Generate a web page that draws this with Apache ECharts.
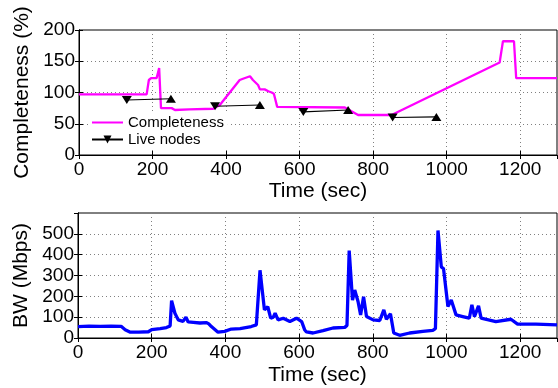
<!DOCTYPE html>
<html>
<head>
<meta charset="utf-8">
<script src="https://cdn.jsdelivr.net/npm/echarts@6/dist/echarts.min.js"></script>
<style>
  html, body { margin: 0; padding: 0; background: #fff; }
  #chart { width: 558px; height: 388px; }
</style>
</head>
<body>
<div id="chart"></div>
<script>
// completeness (%) over time (sec)
const completeness = [
  [0, 97], [184, 97], [190, 120], [196, 123], [211, 123], [215, 132], [218, 139], [223, 75],
  [252, 75], [261, 72], [300, 73], [365, 74], [383, 80], [410, 100], [437, 120], [446, 122],
  [465, 126], [473, 120], [480, 116], [487, 112], [492, 105], [505, 105], [515, 102],
  [524, 100], [530, 98], [539, 77], [723, 76], [759, 64], [850, 64], [1144, 148],
  [1153, 182], [1183, 182], [1189, 123], [1300, 123]
];
// live nodes: [start, end] pairs
const liveStart = [[130, 88], [370, 78], [610, 69], [853, 60]];
const liveEnd = [[250, 90], [492, 80], [732, 72], [972, 61]];

// bandwidth (Mbps)
const bw = [
  [0, 55], [30, 57], [60, 56], [90, 57], [117, 56], [128, 40], [142, 28], [165, 28], [191, 30],
  [200, 40], [223, 45], [240, 50], [250, 58], [254, 179], [263, 119], [272, 87], [285, 80],
  [293, 100], [299, 77], [313, 75], [331, 72], [349, 74], [355, 68], [362, 55], [380, 28],
  [398, 32], [416, 43], [440, 45], [470, 55], [484, 63], [489, 70], [494, 325], [500, 230],
  [506, 135], [515, 150], [523, 95], [530, 100], [535, 119], [543, 87], [557, 95], [575, 79],
  [593, 95], [607, 79], [615, 40], [620, 29], [638, 24], [665, 35], [692, 48], [724, 51],
  [730, 60], [736, 420], [745, 182], [751, 230], [760, 175], [767, 111], [775, 198], [783, 103],
  [801, 87], [819, 84], [830, 135], [837, 90], [848, 116], [857, 24], [873, 13], [900, 24],
  [936, 32], [963, 37], [970, 45], [977, 516], [986, 341], [992, 333], [1004, 151], [1013, 182],
  [1026, 111], [1044, 103], [1062, 95], [1069, 159], [1076, 103], [1087, 154], [1094, 95],
  [1134, 79], [1175, 90], [1193, 67], [1243, 67], [1300, 63]
];

const xTicks = { min: 0, max: 1300, interval: 200 };
const yTopTicks = { min: 0, max: 200, interval: 50 };
const yBotTicks = { min: 0, max: 600, interval: 100 };

const FONT = 'Liberation Sans, Arial, sans-serif';

// build the live-nodes line with gaps between segments
const liveData = [];
liveStart.forEach((s, i) => {
  liveData.push({ value: s, symbolRotate: 180 });
  liveData.push({ value: liveEnd[i], symbolRotate: 0 });
  if (i < liveStart.length - 1) liveData.push('-');
});

const grid = [
  { left: 79, right: 1, top: 30, height: 125, show: true, borderColor: '#000', borderWidth: 1, backgroundColor: 'transparent' },
  { left: 78, right: 1, top: 213, height: 125, show: true, borderColor: '#000', borderWidth: 1, backgroundColor: 'transparent' }
];

const splitLine = { show: true, lineStyle: { color: '#808080', type: [1, 3], width: 1 } };
const tick = { show: true, inside: true, length: 4, lineStyle: { color: '#000' } };
const line = { show: true, lineStyle: { color: '#000', width: 1 } };
const label = { color: '#000', fontSize: 19, fontFamily: FONT, formatter: v => String(v) };

function xAx(gi) {
  return {
    type: 'value', gridIndex: gi, ...xTicks,
    name: 'Time (sec)', nameLocation: 'middle', nameGap: gi === 0 ? 26 : 27,
    nameTextStyle: { color: '#000', fontSize: 21, fontFamily: FONT },
    axisLine: line, axisTick: tick, splitLine,
    axisLabel: { ...label, margin: 5, showMaxLabel: false }
  };
}
function xMirror(gi) {
  return {
    type: 'value', gridIndex: gi, ...xTicks, position: 'top',
    axisLine: line, axisTick: tick, splitLine: { show: false }, axisLabel: { show: false }
  };
}
function yAx(gi, ticks, name, showMax) {
  return {
    type: 'value', gridIndex: gi, ...ticks,
    name, nameLocation: 'middle', nameGap: 42,
    nameTextStyle: { color: '#000', fontSize: 21, fontFamily: FONT },
    axisLine: line, axisTick: tick, splitLine,
    axisLabel: { ...label, margin: 4, showMaxLabel: showMax }
  };
}
function yMirror(gi, ticks) {
  return {
    type: 'value', gridIndex: gi, ...ticks, position: 'right',
    axisLine: line, axisTick: tick, splitLine: { show: false }, axisLabel: { show: false }
  };
}

const chart = echarts.init(document.getElementById('chart'), null, { renderer: 'canvas' });
chart.setOption({
  animation: false,
  backgroundColor: '#fff',
  grid,
  xAxis: [xAx(0), xAx(1), xMirror(0), xMirror(1)],
  yAxis: [
    yAx(0, yTopTicks, 'Completeness (%)', true),
    yAx(1, yBotTicks, 'BW (Mbps)', false),
    yMirror(0, yTopTicks),
    yMirror(1, yBotTicks)
  ],
  legend: {
    orient: 'vertical', left: 90, top: 114,
    itemWidth: 31, itemHeight: 10, itemGap: 2, padding: [1, 4, 1, 1],
    backgroundColor: '#fff',
    textStyle: { color: '#000', fontSize: 15, fontFamily: FONT, lineHeight: 15 },
    data: [
      { name: 'Completeness', itemStyle: { opacity: 0 } },
      { name: 'Live nodes' }
    ]
  },
  series: [
    {
      name: 'Completeness', type: 'line', xAxisIndex: 0, yAxisIndex: 0,
      data: completeness, showSymbol: false, symbol: 'none',
      lineStyle: { color: '#ff00ff', width: 2.3 }, itemStyle: { color: '#ff00ff' }
    },
    {
      name: 'Live nodes', type: 'line', xAxisIndex: 0, yAxisIndex: 0,
      data: liveData, connectNulls: false,
      symbol: 'triangle', symbolSize: [10, 8], symbolRotate: 180,
      lineStyle: { color: '#000', width: 1.2 }, itemStyle: { color: '#000' },
      z: 3
    },
    {
      name: 'BW', type: 'line', xAxisIndex: 1, yAxisIndex: 1,
      data: bw, showSymbol: false, symbol: 'none',
      lineStyle: { color: '#0000ff', width: 3.3 }
    }
  ]
});
</script>
</body>
</html>
